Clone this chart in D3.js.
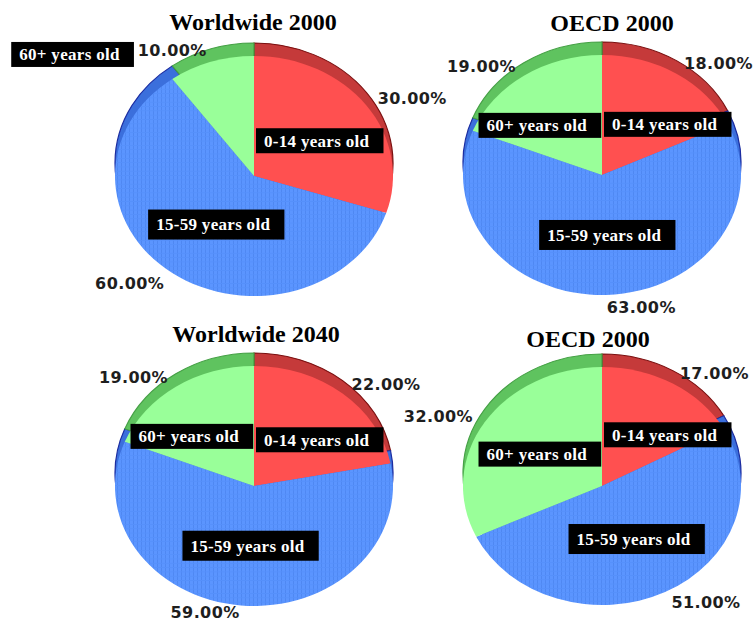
<!doctype html>
<html>
    <head>
        <meta charset="utf-8">
        <title>Population by age</title>
        <style type="text/css">
            body{
                margin:0;
                background:#fff;
            }
            svg text.title{
                font-family: "Liberation Serif", "Times New Roman", serif;
                font-weight:bold;
                font-size:24px;
                fill:#000;
            }
            svg text.name{
                font-family: "Liberation Serif", "Times New Roman", serif;
                font-weight:bold;
                font-size:17px;
                letter-spacing:0.3px;
                fill:#fff;
            }
            svg text.pct{
                font-family: "DejaVu Sans", Verdana, sans-serif;
                font-weight:bold;
                font-size:16px;
                letter-spacing:0.4px;
                fill:#1e1e1e;
            }
        </style>
    </head>
    <body>
        <div id="vis"></div>
        <script src="https://d3js.org/d3.v7.min.js"></script>
        <script type="text/javascript">
            // data
            var categories = ['0-14 years old', '15-59 years old', '60+ years old'];
            var chartTitles = ['Worldwide 2000', 'OECD 2000', 'Worldwide 2040', 'OECD 2000'];
            var worldwide2000 = [30, 60, 10];
            var oecd2000 = [18, 63, 19];
            var worldwide2040 = [22, 59, 19];
            var oecd2000b = [17, 51, 32];
            var pieValues = [worldwide2000, oecd2000, worldwide2040, oecd2000b];

            // layout of the four pies (ellipses, tilted a bit)
            var width = 756, height = 625;
            var panels = [
                {cx:254, cy:176, rx:139, ry:120, tx:253, ty:30},
                {cx:602, cy:175, rx:139, ry:120, tx:612, ty:31},
                {cx:254, cy:486, rx:139, ry:120, tx:256, ty:342},
                {cx:602, cy:486, rx:139, ry:119, tx:588, ty:347}
            ];
            var rimShift = 13;

            var faceColor = d3.scaleOrdinal().domain(categories).range(['#ff5050', 'url(#bluetex)', '#99ff99']),
                rimColor = d3.scaleOrdinal().domain(categories).range(['#c53a3a', '#3b6fdc', '#5fc35f']),
                rimEdge = d3.scaleOrdinal().domain(categories).range(['#7a1010', '#1c2ca0', '#45a045']);

            var svg = d3.select('#vis').append('svg').attr('width', width).attr('height', height);

            // dotted texture of the blue slice
            var pat = svg.append('defs').append('pattern').attr('id', 'bluetex')
                .attr('patternUnits', 'userSpaceOnUse').attr('width', 4).attr('height', 5);
            pat.append('rect').attr('width', 4).attr('height', 5).attr('fill', '#5b95ff');
            pat.append('rect').attr('x', 3).attr('width', 1).attr('height', 5).attr('fill', '#4f88f2');
            pat.append('rect').attr('y', 4).attr('width', 4).attr('height', 1).attr('fill', '#5590fb');

            var pie = d3.pie().sort(null).value(function(d){ return d; }),
                fmt = d3.format('.2f');

            panels.forEach(function(p, i){
                var values = pieValues[i],
                    arcs = pie(values),
                    arc = d3.arc().innerRadius(0).outerRadius(p.rx),
                    k = p.ry / p.rx;

                // side of the pie, visible above the top face
                svg.append('g').attr('transform', 'translate(' + p.cx + ',' + (p.cy - rimShift) + ') scale(1,' + k + ')')
                    .selectAll('path').data(arcs).enter().append('path')
                    .attr('d', arc)
                    .attr('fill', function(d, j){ return rimColor(categories[j]); })
                    .attr('stroke', function(d, j){ return rimEdge(categories[j]); })
                    .attr('stroke-width', 1.2);

                // top face
                svg.append('g').attr('transform', 'translate(' + p.cx + ',' + p.cy + ') scale(1,' + k + ')')
                    .selectAll('path').data(arcs).enter().append('path')
                    .attr('d', arc)
                    .attr('fill', function(d, j){ return faceColor(categories[j]); });

                svg.append('text').attr('class', 'title')
                    .attr('x', p.tx).attr('y', p.ty)
                    .attr('text-anchor', 'middle')
                    .text(chartTitles[i]);

                var g = svg.append('g').attr('transform', 'translate(' + p.cx + ',' + p.cy + ')');

                arcs.forEach(function(d, j){
                    var a = (d.startAngle + d.endAngle) / 2,
                        px = 1.1 * p.rx * Math.sin(a),
                        py = -1.1 * p.ry * Math.cos(a);
                    // keep the label inside the picture
                    py = Math.min(py, height - 13 - p.cy);

                    var pct = g.append('text').attr('class', 'pct')
                        .attr('x', px).attr('y', py)
                        .attr('dy', '0.36em')
                        .attr('text-anchor', px >= 0 ? 'start' : 'end')
                        .text(fmt(d.value) + '%');

                    // name label in a black box
                    var lx, ly, anchor;
                    if (d.value < 15) {
                        var bb = pct.node().getBBox();
                        anchor = px >= 0 ? 'start' : 'end';
                        lx = px >= 0 ? bb.x + bb.width + 18 : bb.x - 18;
                        ly = py + 4;
                    } else {
                        ly = -0.5 * p.ry * Math.cos(a);
                        if (a < Math.PI / 2) { anchor = 'start'; lx = 10; }
                        else if (a > 3 * Math.PI / 2) { anchor = 'end'; lx = -15; }
                        else { anchor = 'middle'; lx = 0.5 * p.rx * Math.sin(a); }
                    }

                    var lg = g.append('g'),
                        rect = lg.append('rect').attr('fill', '#000'),
                        txt = lg.append('text').attr('class', 'name')
                            .attr('x', lx).attr('y', ly)
                            .attr('dy', '0.34em')
                            .attr('text-anchor', anchor)
                            .text(categories[j]);

                    var tb = txt.node().getBBox(),
                        bh = anchor === 'middle' ? 30 : 25;
                    rect.attr('x', tb.x - 8).attr('y', ly - bh / 2)
                        .attr('width', tb.width + 22).attr('height', bh);
                });
            });
        </script>
    </body>
</html>
